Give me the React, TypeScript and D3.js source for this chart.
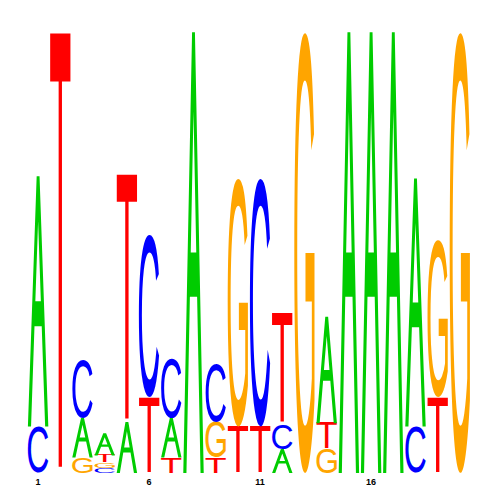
import React, { useEffect, useRef } from "react";
import * as d3 from "d3";

// sequence logo: information content (bits) per letter and position
const positions = [1, 2, 3, 4, 5, 6, 7, 8, 9, 10, 11, 12, 13, 14, 15, 16, 17, 18, 19, 20];
const bitsA = [1.13, 0, 0.18, 0.1, 0.23, 0, 0.18, 1.99, 0, 0, 0, 0.108, 0, 0.48, 1.99, 1.99, 1.99, 1.12, 0, 0];
const bitsC = [0.21, 0, 0.26, 0.022, 0, 0.73, 0.27, 0, 0.26, 0, 1.12, 0.113, 0, 0, 0, 0, 0, 0.21, 0, 0];
const bitsG = [0, 0, 0.07, 0.025, 0, 0, 0, 0, 0.16, 1.12, 0, 0, 1.99, 0.11, 0, 0, 0, 0, 0.71, 1.99];
const bitsT = [0, 1.99, 0, 0.032, 1.12, 0.34, 0.07, 0, 0.07, 0.21, 0.21, 0.5, 0, 0.115, 0, 0, 0, 0, 0.34, 0];
const tickPositions = [1, 6, 11, 16];

const letterColor: Record<string, string> = {
  A: "#00cc00",
  C: "#0000ff",
  G: "#ffa500",
  T: "#ff0000",
};

const width = 500;
const height = 500;
const FONT = "Liberation Sans";

// the A has its crossbar higher than the font's, so it gets its own outline (unit box, y down)
function letterAPath() {
  const p = d3.path();
  const pt = (x: number, y: number) => [x, 1 - y] as [number, number];
  const outer = [pt(0, 0), pt(0.43, 1), pt(0.57, 1), pt(1, 0), pt(0.845, 0), pt(0.677, 0.4), pt(0.323, 0.4), pt(0.155, 0)];
  const hole = [pt(0.365, 0.5), pt(0.5, 0.82), pt(0.635, 0.5)];
  [outer, hole].forEach((poly) => {
    p.moveTo(poly[0][0], poly[0][1]);
    poly.slice(1).forEach((q) => p.lineTo(q[0], q[1]));
    p.closePath();
  });
  return p.toString();
}

export default function App() {
  const ref = useRef<SVGSVGElement>(null);

  useEffect(() => {
    const svg = d3.select(ref.current);
    svg.selectAll("*").remove();

    const x = d3.scaleBand<number>()
      .domain(positions)
      .range([27, 471])
      .paddingInner(0.08)
      .paddingOuter(0.04);

    const y = d3.scaleLinear().domain([0, 2]).range([473, 30]);

    // tight glyph bounds from canvas
    const ctx = document.createElement("canvas").getContext("2d")!;
    ctx.font = `100px '${FONT}'`;
    const metrics: Record<string, any> = {};
    ["C", "G", "T"].forEach((l) => {
      const m = ctx.measureText(l);
      metrics[l] = {
        left: m.actualBoundingBoxLeft,
        right: m.actualBoundingBoxRight,
        asc: m.actualBoundingBoxAscent,
        desc: m.actualBoundingBoxDescent,
      };
    });
    const aPath = letterAPath();

    const g = svg.append("g");

    positions.forEach((p, i) => {
      const stack = [
        { l: "A", v: bitsA[i] },
        { l: "C", v: bitsC[i] },
        { l: "G", v: bitsG[i] },
        { l: "T", v: bitsT[i] },
      ].filter((d) => d.v > 0).sort((a, b) => a.v - b.v);

      let base = 0;
      stack.forEach((d) => {
        const yBottom = y(base);
        const yTop = y(base + d.v);
        base += d.v;
        const w = x.bandwidth();
        const h = yBottom - yTop;
        const x0 = x(p)!;
        if (d.l === "A") {
          g.append("path")
            .attr("d", aPath)
            .attr("fill-rule", "evenodd")
            .attr("fill", letterColor.A)
            .attr("transform", `translate(${x0},${yTop}) scale(${w},${h})`);
          return;
        }
        const m = metrics[d.l];
        const sx = w / (m.left + m.right);
        const sy = h / (m.asc + m.desc);
        g.append("text")
          .attr("x", 0)
          .attr("y", 0)
          .attr("font-family", FONT)
          .attr("font-size", 100)
          .attr("fill", letterColor[d.l])
          .attr("transform", `translate(${x0 + m.left * sx},${yTop + m.asc * sy}) scale(${sx},${sy})`)
          .text(d.l);
      });
    });

    svg.append("g")
      .selectAll("text")
      .data(tickPositions)
      .join("text")
      .attr("x", (d) => x(d)! + x.bandwidth() / 2)
      .attr("y", 485)
      .attr("text-anchor", "middle")
      .attr("font-family", FONT)
      .attr("font-weight", "bold")
      .attr("font-size", 9)
      .attr("fill", "#000")
      .text((d) => d);
  }, []);

  return (
    <div style={{ position: "absolute", left: 0, top: 0 }}>
      <svg ref={ref} width={width} height={height} style={{ display: "block", background: "#fff" }} />
    </div>
  );
}
